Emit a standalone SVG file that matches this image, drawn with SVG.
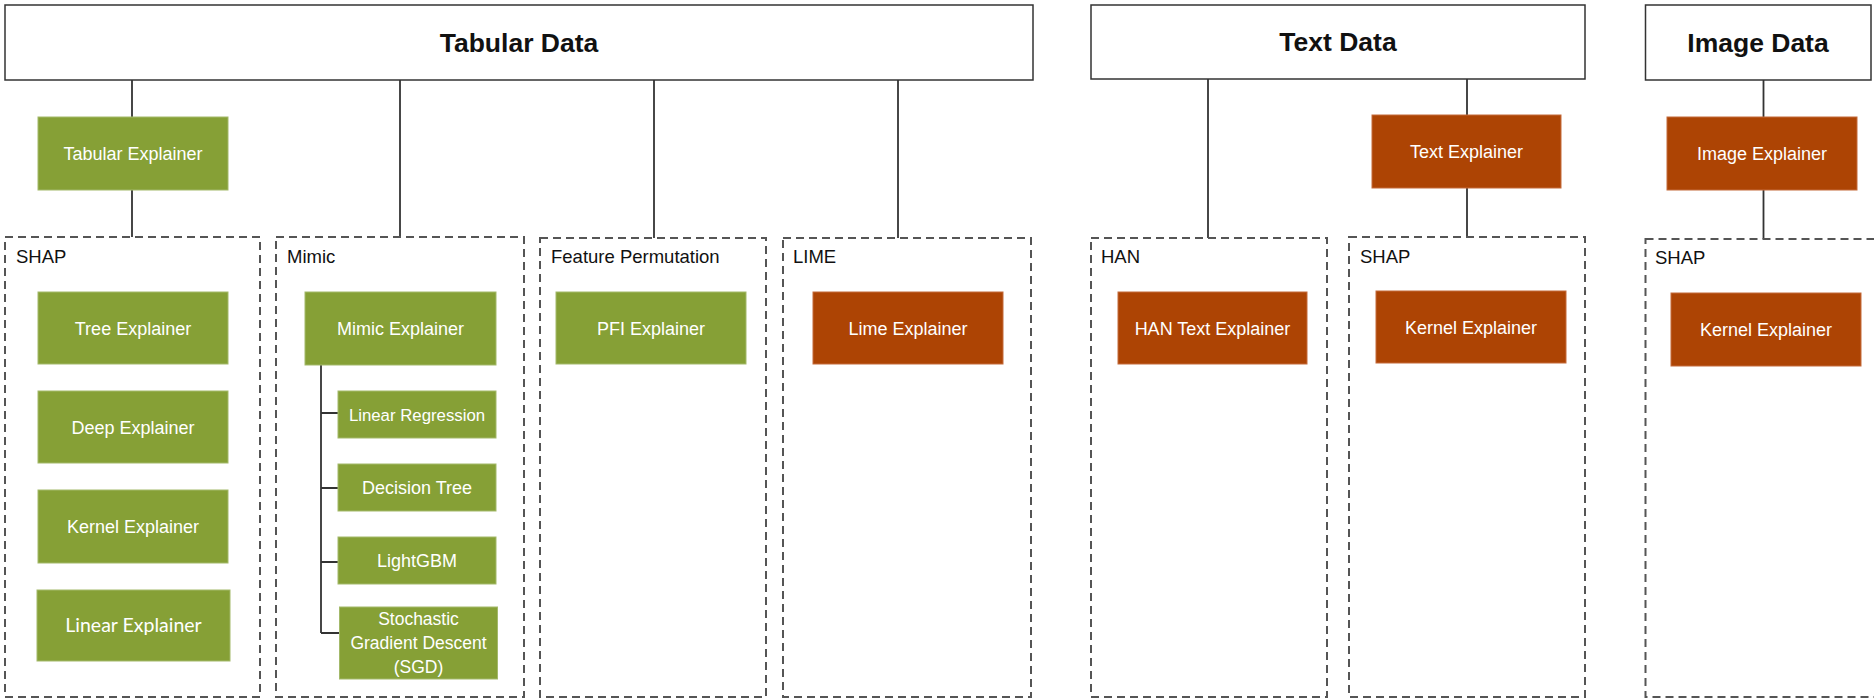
<svg xmlns="http://www.w3.org/2000/svg" width="1874" height="698" viewBox="0 0 1874 698">
<style>
  .hdr{fill:#fff;stroke:#333;stroke-width:1.5}
  .hdrt{font-family:"Liberation Sans",Arial,sans-serif;font-weight:bold;font-size:26.5px;fill:#111;text-anchor:middle}
  .grp{fill:none;stroke:#555;stroke-width:2;stroke-dasharray:8 5}
  .grpt{font-family:"Liberation Sans",Arial,sans-serif;font-size:18.5px;fill:#111}
  .g{fill:#86A036;stroke:#a3b96a;stroke-width:1}
  .o{fill:#AD4404;stroke:#c46a3a;stroke-width:1}
  .nt{font-family:"Liberation Sans",Arial,sans-serif;font-size:18px;fill:#fff;text-anchor:middle}
  .cn{fill:none;stroke:#333;stroke-width:1.8}
</style>
<g id="connectors">
  <path class="cn" d="M132 80V117M132 190V237"/>
  <path class="cn" d="M400 80V237"/>
  <path class="cn" d="M654 80V238"/>
  <path class="cn" d="M898 80V238"/>
  <path class="cn" d="M1208 79V238"/>
  <path class="cn" d="M1467 79V115M1467 188V237"/>
  <path class="cn" d="M1763.5 80V117M1763.5 190V239"/>
  <path class="cn" d="M321 365V633M321 413H338M321 488H338M321 562H338M321 633H339.5"/>
</g>
<g id="tabular-data"><rect class="hdr" x="5" y="5" width="1028" height="75"/><text class="hdrt" x="519" y="51.5">Tabular Data</text></g>
<g id="text-data"><rect class="hdr" x="1091" y="5" width="494" height="74"/><text class="hdrt" x="1338" y="51">Text Data</text></g>
<g id="image-data"><rect class="hdr" x="1645.5" y="5" width="225.5" height="75"/><text class="hdrt" x="1758" y="51.5">Image Data</text></g>

<g id="tabular-explainer"><rect class="g" x="38" y="117" width="190" height="73"/><text class="nt" x="133" y="160">Tabular Explainer</text></g>
<g id="text-explainer"><rect class="o" x="1372" y="115" width="189" height="73"/><text class="nt" x="1466.5" y="158">Text Explainer</text></g>
<g id="image-explainer"><rect class="o" x="1667" y="117" width="190" height="73"/><text class="nt" x="1762" y="160">Image Explainer</text></g>

<g id="group-shap-tabular"><rect class="grp" x="5" y="237" width="255" height="460"/><text class="grpt" x="16" y="263">SHAP</text></g>
<g id="group-mimic"><rect class="grp" x="276" y="237" width="248" height="460"/><text class="grpt" x="287" y="263">Mimic</text></g>
<g id="group-feature-permutation"><rect class="grp" x="540" y="238" width="226" height="459"/><text class="grpt" x="551" y="263">Feature Permutation</text></g>
<g id="group-lime"><rect class="grp" x="783" y="238" width="248" height="459"/><text class="grpt" x="793" y="263">LIME</text></g>
<g id="group-han"><rect class="grp" x="1091" y="238" width="236" height="459"/><text class="grpt" x="1101" y="263">HAN</text></g>
<g id="group-shap-text"><rect class="grp" x="1349" y="237" width="236" height="460"/><text class="grpt" x="1360" y="263">SHAP</text></g>
<g id="group-shap-image"><rect class="grp" x="1645.5" y="239" width="240" height="458"/><text class="grpt" x="1655" y="264">SHAP</text></g>

<g id="tree-explainer"><rect class="g" x="38" y="292" width="190" height="72"/><text class="nt" x="133" y="334.5">Tree Explainer</text></g>
<g id="deep-explainer"><rect class="g" x="38" y="391" width="190" height="72"/><text class="nt" x="133" y="433.5">Deep Explainer</text></g>
<g id="kernel-explainer-tabular"><rect class="g" x="38" y="490" width="190" height="73"/><text class="nt" x="133" y="533">Kernel Explainer</text></g>
<g id="linear-explainer"><rect class="g" x="37" y="590" width="193" height="71"/><text class="nt" x="133.5" y="632" style="font-family:Lato,'Liberation Sans',sans-serif;font-size:19.5px">Linear Explainer</text></g>

<g id="mimic-explainer"><rect class="g" x="305" y="292" width="191" height="73"/><text class="nt" x="400.5" y="335">Mimic Explainer</text></g>
<g id="linear-regression"><rect class="g" x="338" y="391" width="158" height="47"/><text class="nt" x="417" y="420.5" style="font-size:16.8px">Linear Regression</text></g>
<g id="decision-tree"><rect class="g" x="338" y="464" width="158" height="47"/><text class="nt" x="417" y="494">Decision Tree</text></g>
<g id="lightgbm"><rect class="g" x="338" y="537" width="158" height="47"/><text class="nt" x="417" y="567">LightGBM</text></g>
<g id="sgd"><rect class="g" x="339.5" y="607" width="158" height="72"/><text class="nt" x="418.5" style="font-size:17.5px"><tspan x="418.5" y="625">Stochastic</tspan><tspan x="418.5" y="649">Gradient Descent</tspan><tspan x="418.5" y="673">(SGD)</tspan></text></g>

<g id="pfi-explainer"><rect class="g" x="556" y="292" width="190" height="72"/><text class="nt" x="651" y="334.5">PFI Explainer</text></g>
<g id="lime-explainer"><rect class="o" x="813" y="292" width="190" height="72"/><text class="nt" x="908" y="334.5">Lime Explainer</text></g>
<g id="han-text-explainer"><rect class="o" x="1118" y="292" width="189" height="72"/><text class="nt" x="1212.5" y="334.5">HAN Text Explainer</text></g>
<g id="kernel-explainer-text"><rect class="o" x="1376" y="291" width="190" height="72"/><text class="nt" x="1471" y="333.5">Kernel Explainer</text></g>
<g id="kernel-explainer-image"><rect class="o" x="1671" y="293" width="190" height="73"/><text class="nt" x="1766" y="336">Kernel Explainer</text></g>
</svg>
